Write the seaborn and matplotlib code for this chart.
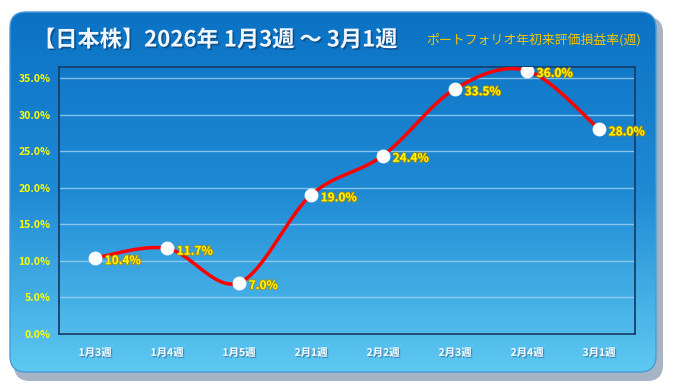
#!/usr/bin/env python3

import numpy as np
import pandas as pd
import matplotlib
matplotlib.use('Agg')
import matplotlib.pyplot as plt
import matplotlib.patheffects as pe
from matplotlib.patches import FancyBboxPatch
from matplotlib.colors import LinearSegmentedColormap
import seaborn as sns

SET_DPI = 100
FIGSIZE = (6.74, 3.92)

weeks = ['1月3週', '1月4週', '1月5週', '2月1週', '2月2週', '2月3週', '2月4週', '3月1週']
returns = [10.4, 11.7, 7.0, 19.0, 24.4, 33.5, 36.0, 28.0]
yticks = [0, 5, 10, 15, 20, 25, 30, 35]
title = '【日本株】2026年 1月3週 ～ 3月1週'
subtitle = 'ポートフォリオ年初来評価損益率(週)'

sns.set_style('white')
plt.rcParams['font.family'] = ['Noto Sans CJK JP', 'DejaVu Sans']

data = pd.DataFrame({'week': weeks, 'ret': returns, 'pos': np.arange(len(weeks))})


# smoothed line like excel (catmull-rom through the points)
def smooth(x, y, n=30):
    px = np.concatenate([[x[0]], x, [x[-1]]])
    py = np.concatenate([[y[0]], y, [y[-1]]])
    xs, ys = [], []
    t = np.linspace(0, 1, n)
    for i in range(1, len(px) - 2):
        for p, out in ((px, xs), (py, ys)):
            p0, p1, p2, p3 = p[i - 1], p[i], p[i + 1], p[i + 2]
            out.extend(0.5 * ((2 * p1) + (-p0 + p2) * t +
                              (2 * p0 - 5 * p1 + 4 * p2 - p3) * t ** 2 +
                              (-p0 + 3 * p1 - 3 * p2 + p3) * t ** 3))
    return pd.DataFrame({'x': xs, 'y': ys})


curve = smooth(data['pos'].to_numpy(float), data['ret'].to_numpy(float))

fig = plt.figure(figsize=FIGSIZE, dpi=SET_DPI)
fig.patch.set_facecolor('white')

# background panel
bg = fig.add_axes([0, 0, 1, 1], zorder=0)
bg.set_xlim(0, 674)
bg.set_ylim(392, 0)
bg.axis('off')
shadow = FancyBboxPatch((14, 17), 649, 364, boxstyle='round,pad=0,rounding_size=16',
                        facecolor='#a6b4c6', edgecolor='none', zorder=0)
bg.add_patch(shadow)
panel = FancyBboxPatch((10, 12), 646, 360, boxstyle='round,pad=0,rounding_size=16',
                       facecolor='none', edgecolor='#4a9ad8', linewidth=1, zorder=2)
bg.add_patch(panel)
cmap = LinearSegmentedColormap.from_list('bluegrad', ['#0b72c4', '#1f8ad4', '#5ec9f1'])
grad = np.linspace(0, 1, 256).reshape(-1, 1)
im = bg.imshow(grad, cmap=cmap, extent=(10, 656, 372, 12), aspect='auto', zorder=1)
im.set_clip_path(panel)

shadow_fx = [pe.withSimplePatchShadow(offset=(1.2, -1.2), shadow_rgbFace='#0a3a66', alpha=0.6)]
bg.text(33, 40, title, color='#f2f6ff', fontsize=16, fontweight='bold',
        va='center', ha='left', path_effects=shadow_fx, zorder=3)
bg.text(641, 40, subtitle, color='#f5c400', fontsize=9.3,
        va='center', ha='right', zorder=3)

# chart
ax = fig.add_axes([59 / 674, 1 - 334 / 392, 576 / 674, 267 / 392], zorder=2)
ax.set_facecolor('none')
for y in yticks[1:]:
    ax.axhline(y, color='#9fd3f2', linewidth=1, alpha=0.8, zorder=1)
ax.axhline(0, color='#d8e6f0', linewidth=1.5, zorder=1)

sns.lineplot(data=curve, x='x', y='y', color='#ff0000', linewidth=2.5,
             sort=False, ax=ax, zorder=3)
sns.scatterplot(data=data, x='pos', y='ret', color='white', s=85,
                edgecolor='white', ax=ax, zorder=4)

label_fx = [pe.withStroke(linewidth=1.2, foreground='#b08a00')]
for _, row in data.iterrows():
    ax.annotate(f"{row['ret']:.1f}%", (row['pos'], row['ret']),
                xytext=(7, -2), textcoords='offset points', ha='left', va='center',
                color='#ffff00', fontsize=8.5, fontweight='bold', path_effects=label_fx,
                zorder=5, annotation_clip=False)

ax.set_xlim(-0.5, 7.5)
ax.set_ylim(0, 36.5)
ax.set_xticks(data['pos'])
ax.set_xticklabels(weeks)
ax.set_yticks(yticks)
ax.set_yticklabels([f'{v:.1f}%' for v in yticks])
ax.tick_params(axis='x', colors='white', labelsize=7.5, length=0, pad=10)
ax.tick_params(axis='y', colors='#ffff00', labelsize=7.5, length=0, pad=6)
for lbl in ax.get_xticklabels():
    lbl.set_fontweight('bold')
    lbl.set_path_effects([pe.withSimplePatchShadow(offset=(1, -1), shadow_rgbFace='#2a6a9a', alpha=0.6)])
for lbl in ax.get_yticklabels():
    lbl.set_fontweight('bold')
for side in ax.spines.values():
    side.set_color('#14406e')
    side.set_linewidth(1.3)
ax.set_xlabel('')
ax.set_ylabel('')

plt.savefig('out.png', dpi=SET_DPI)
